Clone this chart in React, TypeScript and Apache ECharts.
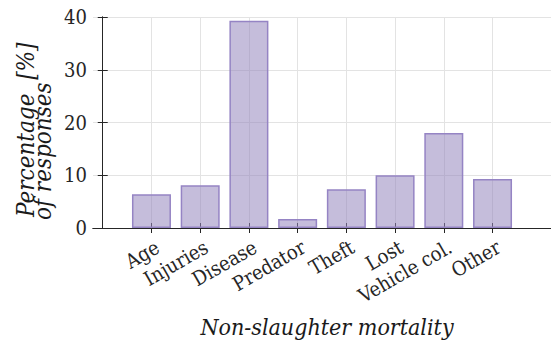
import React, { useEffect, useRef } from "react";
import * as echarts from "echarts";

const categories = ["Age", "Injuries", "Disease", "Predator", "Theft", "Lost", "Vehicle col.", "Other"];
const percentages = [6.4, 8.1, 39.3, 1.7, 7.35, 10.0, 18.0, 9.3];
const yTicks = [0, 10, 20, 30, 40];
const xTitle = "Non-slaughter mortality";
const yTitleLine1 = "Percentage  [%]";
const yTitleLine2 = "of responses";

const FONT = "DejaVu Serif Condensed";
const AX = "#262626";

export default function App() {
  const ref = useRef<HTMLDivElement>(null);
  useEffect(() => {
    if (!ref.current) return;
    const chart = echarts.init(ref.current, null, { renderer: "svg" });
    const positions = categories.map((_, i) => i + 1);
    const commonX = {
      type: "value",
      min: -0.2,
      max: 9.2,
      axisLine: { show: true, lineStyle: { color: AX, width: 1 } },
    };
    const commonY = {
      type: "value",
      min: yTicks[0],
      max: yTicks[yTicks.length - 1],
      interval: 10,
      axisLine: { show: true, lineStyle: { color: AX, width: 1 } },
    };
    const titleStyle = {
      fontFamily: FONT,
      fontStyle: "italic",
      fill: "#1a1a1a",
    };
    chart.setOption({
      animation: false,
      backgroundColor: "#ffffff",
      textStyle: { fontFamily: FONT },
      grid: { left: 93, top: 17, right: -1.4, bottom: 116, containLabel: false },
      xAxis: [
        {
          ...commonX,
          position: "bottom",
          axisTick: { show: true, inside: true, length: 5, customValues: positions, lineStyle: { color: AX } },
          axisLabel: {
            show: true,
            customValues: positions,
            rotate: 30,
            margin: 21,
            padding: [0, -7, 0, 0],
            fontFamily: FONT,
            fontSize: 20,
            color: AX,
            formatter: (v: number) => categories[Math.round(v) - 1] ?? "",
          },
          splitLine: { show: true, lineStyle: { color: "#e3e3e3", width: 1 } },
        },
        {
          ...commonX,
          position: "top",
          axisTick: { show: true, inside: true, length: 5, customValues: positions, lineStyle: { color: AX } },
          axisLabel: { show: false },
          splitLine: { show: false },
        },
      ],
      yAxis: [
        {
          ...commonY,
          position: "left",
          axisTick: { show: true, inside: true, length: 5, lineStyle: { color: AX } },
          axisLabel: { show: true, margin: 6, fontFamily: FONT, fontSize: 20, color: AX },
          splitLine: { show: true, lineStyle: { color: "#e3e3e3", width: 1 } },
        },
        {
          ...commonY,
          position: "right",
          axisTick: { show: true, inside: true, length: 5, lineStyle: { color: AX } },
          axisLabel: { show: false },
          splitLine: { show: false },
        },
      ],
      series: [
        {
          type: "bar",
          xAxisIndex: 0,
          yAxisIndex: 0,
          barWidth: 39,
          data: percentages.map((v, i) => [positions[i], v]),
          itemStyle: {
            color: "rgba(150,135,190,0.55)",
            borderColor: "#9584c4",
            borderWidth: 1.5,
          },
        },
      ],
      graphic: [
        {
          type: "text",
          x: 327,
          y: 327,
          style: { ...titleStyle, fontSize: 23, text: xTitle, align: "center", verticalAlign: "middle" },
        },
        {
          type: "text",
          x: 25.5,
          y: 217,
          rotation: Math.PI / 2,
          style: { ...titleStyle, fontSize: 24, text: yTitleLine1, align: "left", verticalAlign: "middle" },
        },
        {
          type: "text",
          x: 43,
          y: 220,
          rotation: Math.PI / 2,
          style: { ...titleStyle, fontSize: 24, text: yTitleLine2, align: "left", verticalAlign: "middle" },
        },
      ],
    });
    return () => chart.dispose();
  }, []);
  return (
    <div
      ref={ref}
      style={{ position: "absolute", left: 0, top: 0, width: 551, height: 344, overflow: "hidden" }}
    />
  );
}
